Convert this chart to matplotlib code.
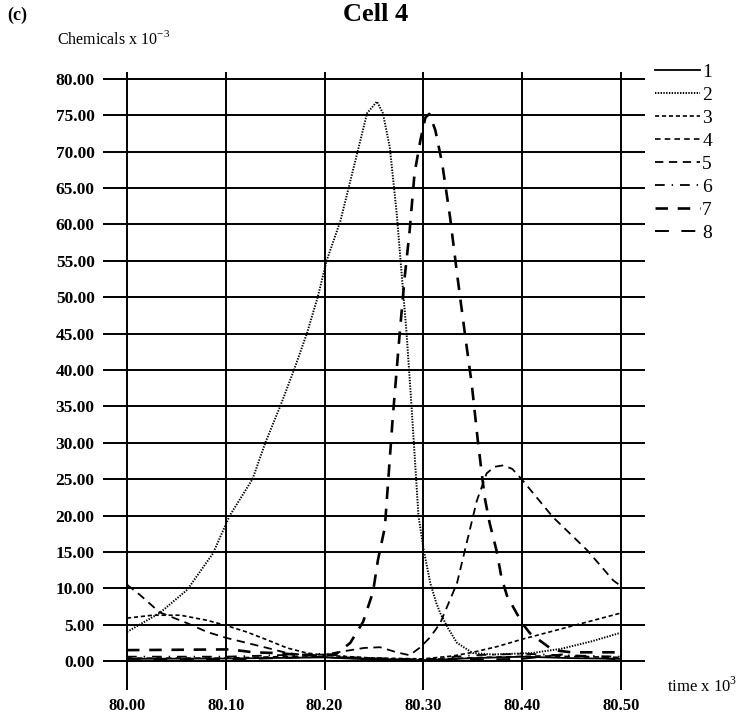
import numpy as np
import matplotlib
matplotlib.use("Agg")
import matplotlib.pyplot as plt

plt.rcParams['font.family'] = ['Liberation Serif', 'DejaVu Serif']
plt.rcParams['mathtext.fontset'] = 'custom'
plt.rcParams['mathtext.rm'] = 'Liberation Serif'
plt.rcParams['lines.scale_dashes'] = False

# time (x 10^3) and concentration (x 10^-3), one pair per chemical
t1 = [80.00, 80.10, 80.20, 80.25, 80.30, 80.35, 80.40, 80.45, 80.50]
c1 = [0.3, 0.35, 0.5, 0.2, 0.1, 0.4, 0.6, 0.4, 0.3]

t2 = [80.000, 80.033, 80.061, 80.087, 80.104, 80.127, 80.140, 80.155, 80.169,
      80.182, 80.193, 80.202, 80.216, 80.233, 80.243, 80.253, 80.259, 80.266,
      80.273, 80.276, 80.283, 80.288, 80.295, 80.300, 80.307, 80.313, 80.317,
      80.325, 80.334, 80.350, 80.370, 80.390, 80.410, 80.440, 80.470, 80.500]
c2 = [4.0, 6.6, 9.8, 14.8, 20.0, 25.0, 30.0, 35.0, 40.0,
      45.0, 50.0, 55.0, 60.5, 69.8, 75.3, 76.9, 75.3, 70.6,
      61.5, 56.5, 45.0, 35.0, 20.0, 15.5, 10.7, 8.0, 6.6,
      4.5, 2.5, 1.1, 0.9, 1.0, 1.1, 1.7, 2.7, 3.9]

t3 = [80.000, 80.026, 80.054, 80.081, 80.100, 80.121, 80.142, 80.162, 80.182,
      80.200, 80.250, 80.300, 80.330, 80.350, 80.375, 80.400, 80.425, 80.450,
      80.475, 80.500]
c3 = [5.9, 6.3, 6.3, 5.6, 4.9, 4.0, 2.9, 1.8, 1.1,
      0.8, 0.4, 0.3, 0.7, 1.2, 2.0, 3.0, 3.9, 4.8,
      5.7, 6.6]

t4 = [80.00, 80.10, 80.18, 80.22, 80.30, 80.36, 80.42, 80.50]
c4 = [0.4, 0.4, 0.7, 0.4, 0.2, 0.5, 0.7, 0.5]

t5 = [80.000, 80.013, 80.033, 80.061, 80.081, 80.100, 80.121, 80.142, 80.162,
      80.182, 80.200, 80.213, 80.240, 80.256, 80.273, 80.286, 80.297, 80.307,
      80.317, 80.334, 80.354, 80.364, 80.372, 80.381, 80.390, 80.400, 80.431,
      80.466, 80.492, 80.500]
c5 = [10.5, 9.1, 6.7, 5.2, 4.0, 3.2, 2.5, 1.8, 1.1,
      0.8, 0.9, 1.2, 1.8, 1.9, 1.2, 0.8, 1.9, 3.3,
      5.2, 10.7, 22.0, 25.8, 26.7, 26.9, 26.4, 24.9, 19.8,
      15.2, 11.1, 10.3]

t6 = [80.00, 80.10, 80.18, 80.20, 80.23, 80.30, 80.35, 80.40, 80.44, 80.50]
c6 = [0.6, 0.6, 0.9, 1.0, 0.5, 0.2, 0.8, 1.0, 0.8, 0.6]

t7 = [80.000, 80.104, 80.128, 80.150, 80.170, 80.200, 80.212, 80.226, 80.239,
      80.249, 80.254, 80.261, 80.269, 80.276, 80.281, 80.286, 80.291, 80.297,
      80.302, 80.306, 80.312, 80.319, 80.327, 80.334, 80.342, 80.349, 80.355,
      80.362, 80.367, 80.374, 80.379, 80.385, 80.391, 80.400, 80.408, 80.421,
      80.431, 80.450, 80.500]
c7 = [1.5, 1.6, 1.2, 1.1, 0.9, 0.7, 1.0, 2.5, 5.4,
      9.5, 13.9, 18.4, 33.5, 45.0, 52.7, 59.0, 67.0, 71.6,
      74.7, 75.2, 73.0, 68.4, 61.0, 53.3, 45.0, 38.0, 30.4,
      22.5, 19.0, 15.2, 11.5, 8.8, 7.4, 5.2, 3.8, 2.5,
      1.5, 1.2, 1.2]

t8 = [80.00, 80.10, 80.20, 80.30, 80.40, 80.44, 80.50]
c8 = [0.1, 0.2, 0.6, 0.1, 0.3, 0.9, 0.2]

series = [(t1, c1), (t2, c2), (t3, c3), (t4, c4), (t5, c5), (t6, c6), (t7, c7), (t8, c8)]
labels = ['1', '2', '3', '4', '5', '6', '7', '8']
styles = ['-', (0, (1, 1)), (0, (3, 2)), (0, (4, 3)), (0, (6, 4)),
          (0, (7, 5, 1, 5)), (0, (9, 7)), (0, (10, 9))]
widths = [1.3, 1.4, 1.2, 1.2, 1.3, 1.3, 1.9, 1.4]

xticks = [80.00, 80.10, 80.20, 80.30, 80.40, 80.50]
yticks = np.arange(0, 80.01, 5.0)

fig = plt.figure(figsize=(7.44, 7.14), dpi=100)
# axes box spans the grid lines, which run past the data range
ax = fig.add_axes([103 / 744, 1 - 690 / 714, 542 / 744, 618 / 714])
ax.set_xlim(79.9757, 80.5243)
ax.set_ylim(-3.98, 80.96)

for y in yticks:
    ax.axhline(y, color='black', lw=1.4, zorder=1)
for x in xticks:
    ax.axvline(x, color='black', lw=1.4, zorder=1)

for (t, c), lab, ls, lw in zip(series, labels, styles, widths):
    ax.plot(t, c, color='black', linestyle=ls, lw=lw, label=lab, zorder=3)

for s in ax.spines.values():
    s.set_visible(False)
ax.set_xticks(xticks)
ax.set_xticklabels(['%.2f' % x for x in xticks], fontsize=12, fontweight='bold')
ax.set_yticks(yticks)
ax.set_yticklabels(['%.2f' % y for y in yticks], fontsize=12.5, fontweight='bold')
ax.tick_params(length=0)
ax.tick_params(axis='x', pad=6)
ax.tick_params(axis='y', pad=6)

ax.legend(loc='upper left', bbox_to_anchor=(1.005, 1.027), frameon=False,
          fontsize=14, handlelength=2.3, handletextpad=0.1, labelspacing=0.28,
          borderaxespad=0)

fig.text(0.505, 0.996, 'Cell 4', fontsize=19, fontweight='bold', ha='center', va='top')
fig.text(0.010, 0.990, '(c)', fontsize=13, fontweight='bold', ha='left', va='top')
fig.text(0.076, 0.958, r'Chemicals x 10$^{\mathrm{-3}}$', fontsize=11.5, ha='left', va='top')
fig.text(0.897, 0.052, r'time x 10$^{\mathrm{3}}$', fontsize=12, ha='left', va='top')

fig.savefig('out.png', dpi=100)
